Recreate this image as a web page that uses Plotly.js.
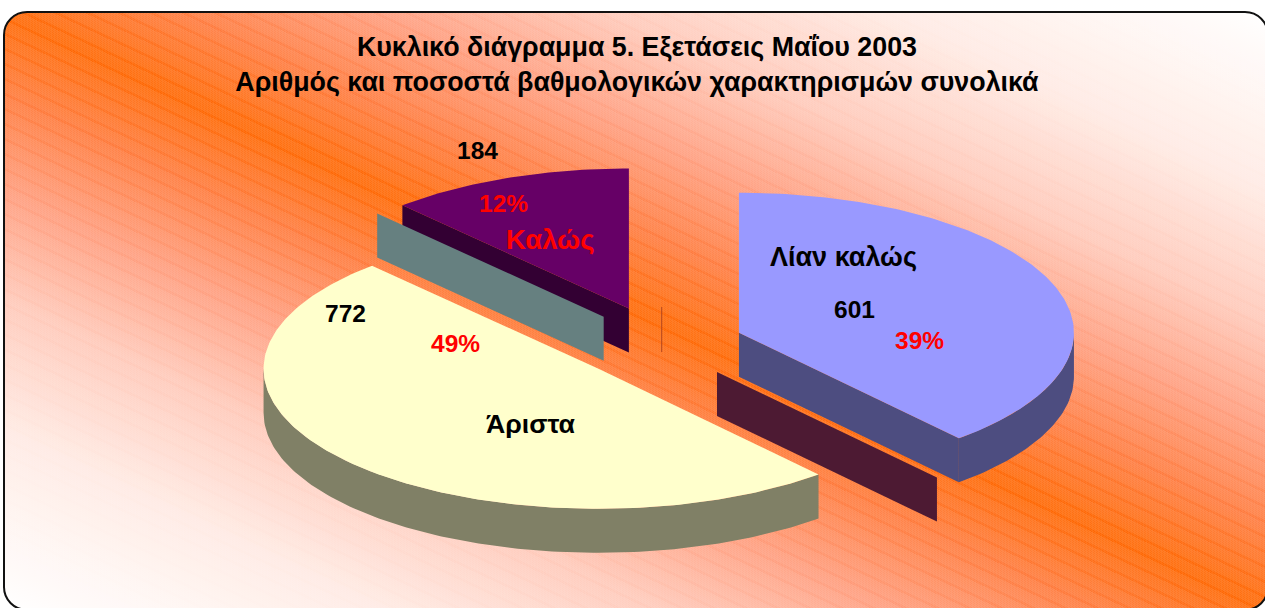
<!DOCTYPE html>
<html><head><meta charset="utf-8">
<script src="https://cdn.plot.ly/plotly-3.0.1.min.js"></script>
<style>
html,body{margin:0;padding:0;width:1265px;height:608px;overflow:hidden;background:#fff}
#frame{position:absolute;left:3px;top:11px;width:1266px;height:600px;box-sizing:border-box;border:2px solid #111;border-radius:24px;overflow:hidden;
background:
 repeating-conic-gradient(rgba(255,255,255,.07) 0 25%,rgba(255,255,255,0) 0 50%) 0 0/3px 2px,
 repeating-linear-gradient(205.2deg,rgba(255,255,255,.07) 0 10.5px,rgba(255,255,255,0) 11.5px 13.6px),
 linear-gradient(205.2deg,#fff 0%,#ffeae3 15%,#ffc8b8 26%,#ff9c7c 35%,#ff7a3c 43%,#ff6600 50%,#ff7a3c 57%,#ff9c7c 65%,#ffc8b8 74%,#ffeae3 85%,#fff 100%);}
#chart{position:absolute;left:0;top:0;width:1265px;height:608px}
</style></head><body>
<div id="frame"></div>
<div id="chart"></div>
<script>
// Data
const categories = ['Λίαν καλώς','Άριστα','Καλώς'];
const counts = [601,772,184];
const percentLabels = ['39%','49%','12%'];
const titleLines = ['Κυκλικό διάγραμμα 5. Εξετάσεις Μαΐου 2003','Αριθμός και ποσοστά βαθμολογικών χαρακτηρισμών συνολικά'];

// Styling per slice
const topColors = ['#9999ff','#ffffcc','#660066'];
const sideColors = ['#4d4d80','#808066','#330033'];
const explodeX = [0.25,0.248,0.26];
const explodeY = [0.25,0.255,0.28];

// Projection of the tilted pie into the pixel-scaled axes
const cx = 660.5, cy = 345, rx = 335, ry = 140, depth = 44;
const total = counts.reduce((a,b)=>a+b,0);
const bounds = [0];
counts.forEach(v=>bounds.push(bounds[bounds.length-1]+v/total*360));
const rad = d=>d*Math.PI/180;
const ox = d=>rx*Math.sin(rad(d)), oy = d=>-ry*Math.cos(rad(d));
function apex(i){const m=(bounds[i]+bounds[i+1])/2;return [cx+explodeX[i]*ox(m),cy+explodeY[i]*oy(m)];}
function arc(i,a,b,dz){const [ax,ay]=apex(i),xs=[],ys=[];const n=Math.max(2,Math.round(Math.abs(b-a)));
  for(let k=0;k<=n;k++){const d=a+(b-a)*k/n;xs.push(ax+ox(d));ys.push(ay+oy(d)+dz);}return [xs,ys];}
const poly=(xs,ys,color,name)=>({type:'scatter',mode:'lines',x:xs.concat(xs[0]),y:ys.concat(ys[0]),fill:'toself',fillcolor:color,line:{width:0,color:color},hoverinfo:'skip',showlegend:false,name});

function topFace(i){const [ax,ay]=apex(i);const [xs,ys]=arc(i,bounds[i],bounds[i+1],0);return poly([ax].concat(xs),[ay].concat(ys),topColors[i],categories[i]);}
function rim(i,a,b){const [x1,y1]=arc(i,a,b,0),[x2,y2]=arc(i,b,a,depth);return poly(x1.concat(x2),y1.concat(y2),sideColors[i],categories[i]+' side');}
function cutWall(i,d){const [ax,ay]=apex(i);const ex=ax+ox(d),ey=ay+oy(d);return poly([ax,ex,ex,ax],[ay,ey,ey+depth,ay+depth],sideColors[i],categories[i]+' wall');}
function strayWall(dx,dy,d,color){const ax=cx+dx,ay=cy+dy,ex=ax+ox(d),ey=ay+oy(d);return poly([ax,ex,ex,ax],[ay,ey,ey+depth,ay+depth],color,'wall');}

const traces=[
  cutWall(2,bounds[2]), topFace(2),
  strayWall(-56.8,-28.3,bounds[2],'#668080'),
  strayWall(56.5,27,bounds[1],'#4d1a33'),
  {type:'scatter',mode:'lines',x:[cx+1.2,cx+1.2],y:[cy-38,cy+7],line:{width:1,color:'#b5481f'},hoverinfo:'skip',showlegend:false},
  cutWall(0,bounds[1]), rim(0,90,bounds[1]), topFace(0),
  rim(1,bounds[1],270), topFace(1)
];

// Label placement
const pctPos=[[919,340],[455,343],[503,203]];
const numPos=[[854,309],[345,313],[477,150]];
const catPos=[[843,257],[531,424],[550,239]];
const catColor=['#000','#000','#ff0000'];
const catSize=[27,26.7,27.5];
const f='"Liberation Sans",Arial,sans-serif';
const note=(p,t,color,size)=>({x:p[0],y:p[1],xref:'x',yref:'y',text:'<b>'+t+'</b>',showarrow:false,xanchor:'center',yanchor:'middle',font:{family:f,size,color}});
const annotations=[];
categories.forEach((c,i)=>{
  annotations.push(note(pctPos[i],percentLabels[i],'#ff0000',24.5));
  annotations.push(note(numPos[i],String(counts[i]),'#000',24.5));
  annotations.push(note(catPos[i],c,catColor[i],catSize[i]));
});

Plotly.newPlot('chart',traces,{
  width:1265,height:608,margin:{l:0,r:0,t:0,b:0},
  paper_bgcolor:'rgba(0,0,0,0)',plot_bgcolor:'rgba(0,0,0,0)',showlegend:false,
  xaxis:{range:[0,1265],visible:false,fixedrange:true},
  yaxis:{range:[608,0],visible:false,fixedrange:true},
  title:{text:'<b>'+titleLines.join('<br>')+'</b>',x:0.5035,xanchor:'center',y:0.9075,yanchor:'middle',font:{family:f,size:26.8,color:'#000'}},
  annotations
},{staticPlot:true,displayModeBar:false});
</script></body></html>
